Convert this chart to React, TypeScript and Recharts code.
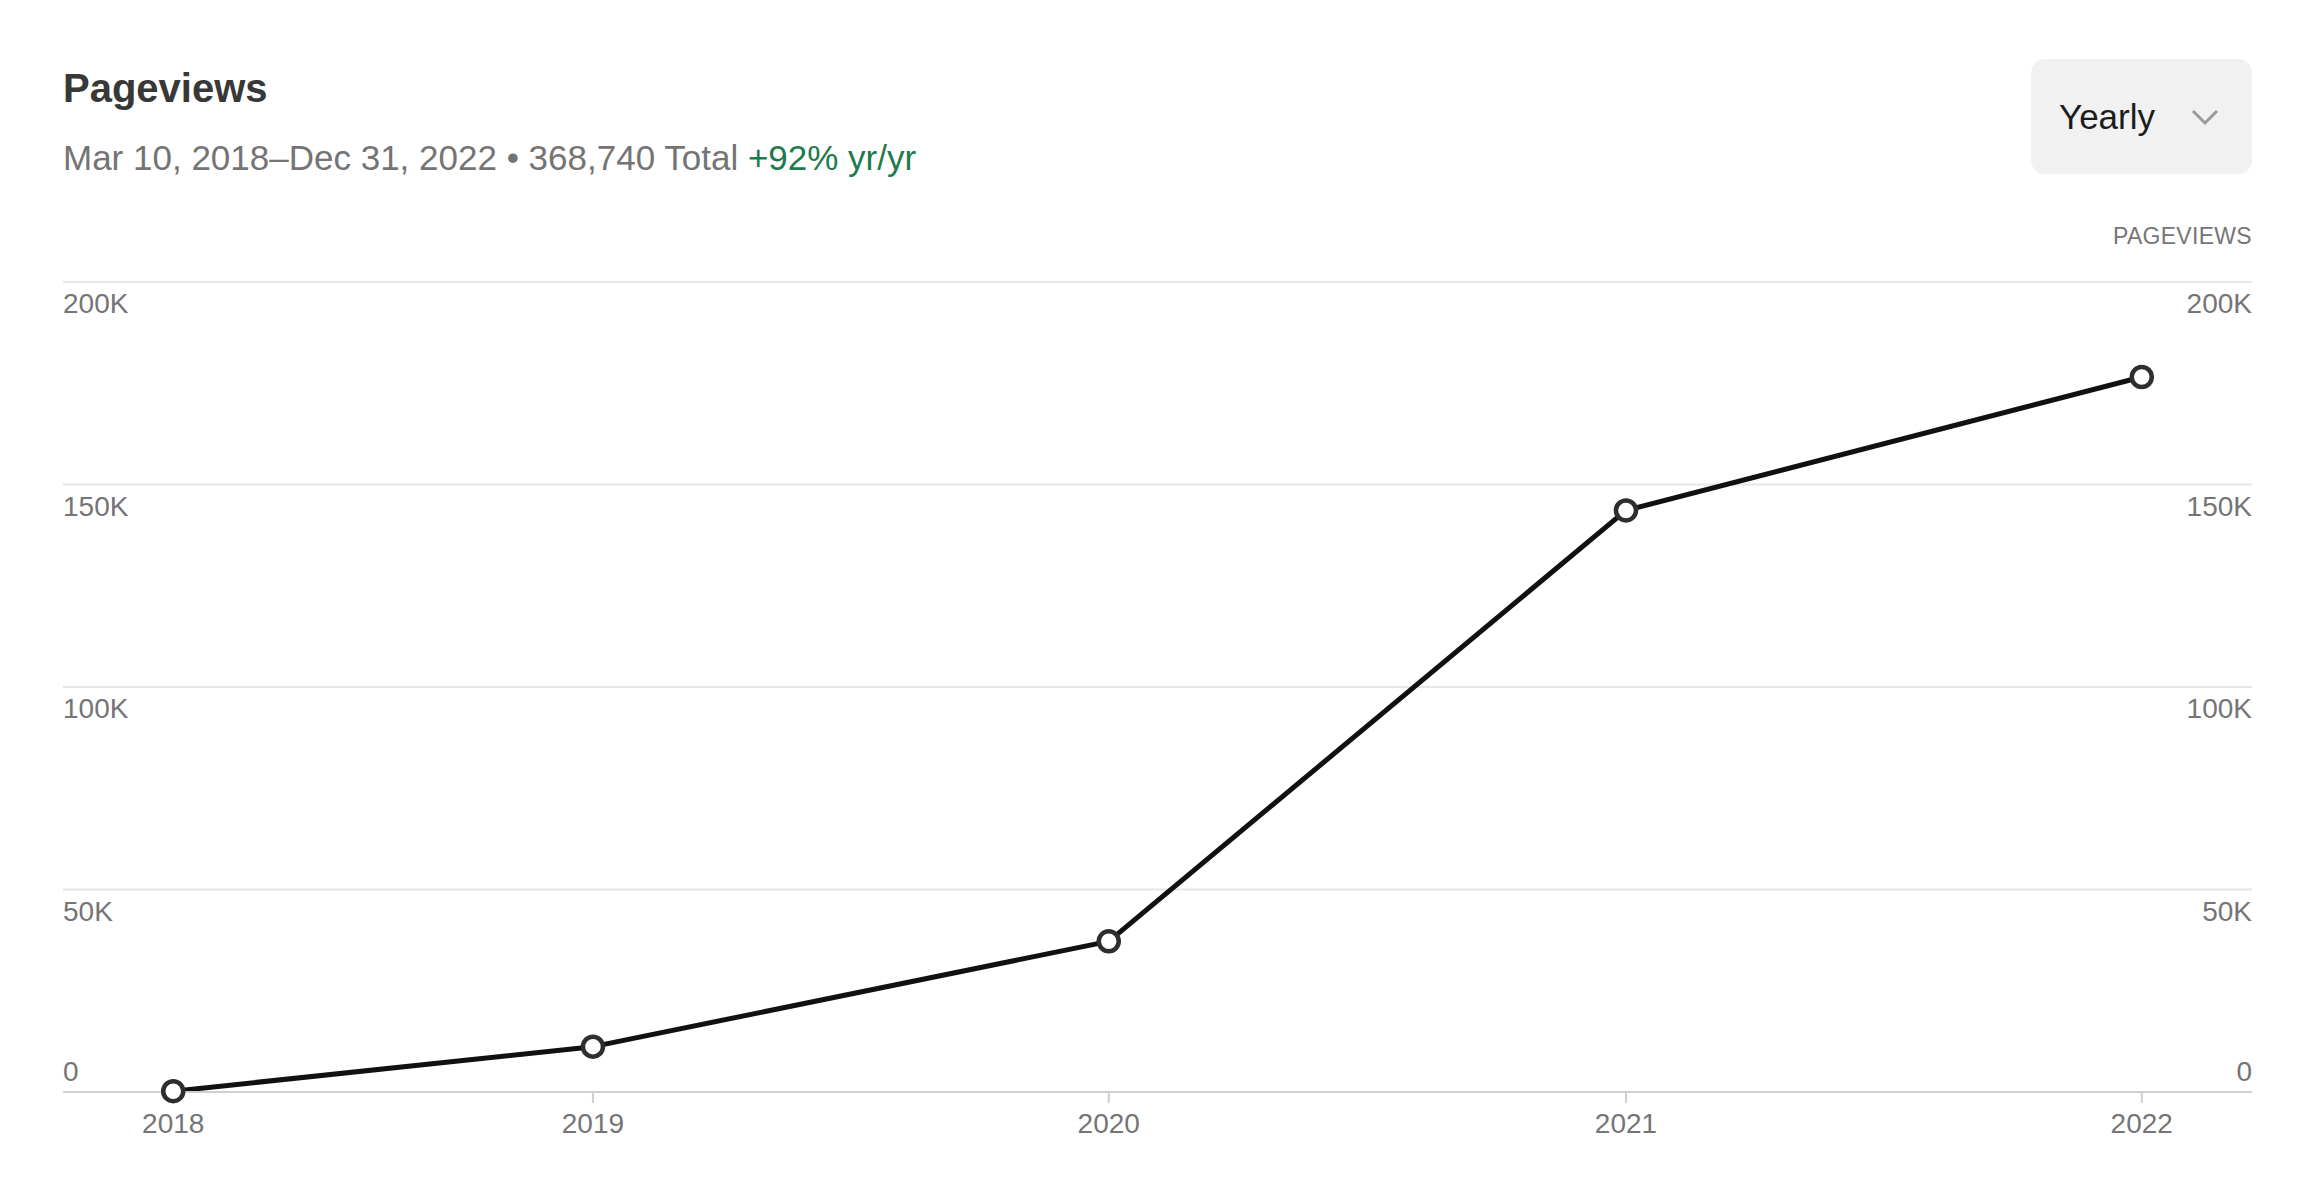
import React from 'react';
import { LineChart, Line, XAxis, YAxis, CartesianGrid } from 'recharts';

// yearly pageviews (first point is the start of tracking)
const dates = ['2018-03-10', '2019-01-01', '2020-01-01', '2021-01-01', '2022-01-01'];
const yearLabels = ['2018', '2019', '2020', '2021', '2022'];
const pageviews = [200, 11200, 37200, 143600, 176540];
const yTicks = [0, 50000, 100000, 150000, 200000];
const yTickLabels = ['0', '50K', '100K', '150K', '200K'];

const FONT = '"Liberation Sans", Arial, Helvetica, sans-serif';
const DAY = 86400000;

const data = dates.map((d, i) => ({ t: Date.parse(d + 'T00:00:00Z'), views: pageviews[i] }));
const xTicks = data.map((d) => d.t);
const pad = 78 * DAY;
const xDomain = [data[0].t - pad, data[data.length - 1].t + pad];

const renderYTick = (anchor: 'start' | 'end') => (props: any) => {
    const { x, y, payload } = props;
    const idx = yTicks.indexOf(payload.value);
    const dy = payload.value === 0 ? -11 : 31;
    return (
        <text x={x} y={y + dy} textAnchor={anchor} fill="#757575" fontSize={28} fontFamily={FONT}>
            {yTickLabels[idx]}
        </text>
    );
};

const App: React.FC = () => {
    return (
        <div style={{ position: 'absolute', left: 0, top: 0, width: 2313, height: 1193, background: '#fff', fontFamily: FONT }}>
            <div style={{ position: 'absolute', left: 63, top: 68, fontSize: 40, lineHeight: 1, fontWeight: 700, color: '#383838' }}>
                Pageviews
            </div>
            <div style={{ position: 'absolute', left: 63, top: 140, fontSize: 35, lineHeight: 1, color: '#747474', whiteSpace: 'nowrap' }}>
                Mar 10, 2018–Dec 31, 2022 • 368,740 Total <span style={{ color: '#1e7b4d' }}>+92% yr/yr</span>
            </div>

            <div style={{ position: 'absolute', left: 2031, top: 59, width: 221, height: 115, background: '#f1f1f1', borderRadius: 14 }}>
                <div style={{ position: 'absolute', left: 28, top: 40, fontSize: 35, lineHeight: 1, color: '#1c1c1c' }}>Yearly</div>
                <svg style={{ position: 'absolute', left: 160, top: 49 }} width={28} height={18}>
                    <polyline points="2,3 14,15 26,3" fill="none" stroke="#9a9a9a" strokeWidth={3} />
                </svg>
            </div>

            <div style={{ position: 'absolute', right: 61, top: 225, fontSize: 23, lineHeight: 1, color: '#767676', letterSpacing: 0.3 }}>
                PAGEVIEWS
            </div>

            <div style={{ position: 'absolute', left: 0, top: 0 }}>
                <LineChart width={2313} height={1193} data={data} margin={{ top: 282, right: 60, left: 62, bottom: 41 }}>
                    <CartesianGrid vertical={false} stroke="#e6e6e6" strokeWidth={2} yAxisId="left" />
                    <XAxis
                        dataKey="t"
                        type="number"
                        domain={xDomain}
                        ticks={xTicks}
                        interval={0}
                        height={60}
                        tickFormatter={(v: number) => yearLabels[xTicks.indexOf(v)]}
                        axisLine={{ stroke: '#cfcfcf', strokeWidth: 2 }}
                        tickLine={{ stroke: '#cfcfcf', strokeWidth: 2 }}
                        tickSize={11}
                        tickMargin={10}
                        tick={{ fill: '#757575', fontSize: 28, fontFamily: FONT }}
                    />
                    <YAxis
                        yAxisId="left"
                        orientation="left"
                        width={1}
                        domain={[0, 200000]}
                        ticks={yTicks}
                        interval={0}
                        axisLine={false}
                        tickLine={false}
                        tickSize={0}
                        tickMargin={0}
                        tick={renderYTick('start')}
                    />
                    <YAxis
                        yAxisId="right"
                        orientation="right"
                        width={1}
                        type="number"
                        domain={[0, 200000]}
                        allowDataOverflow
                        ticks={yTicks}
                        interval={0}
                        axisLine={false}
                        tickLine={false}
                        tickSize={0}
                        tickMargin={0}
                        tick={renderYTick('end')}
                    />
                    <Line
                        yAxisId="left"
                        type="linear"
                        dataKey="views"
                        stroke="#111"
                        strokeWidth={5}
                        strokeLinejoin="round"
                        dot={{ r: 10, fill: '#fff', stroke: '#2e2e2e', strokeWidth: 4.5 }}
                        isAnimationActive={false}
                    />
                </LineChart>
            </div>
        </div>
    );
};

export default App;
